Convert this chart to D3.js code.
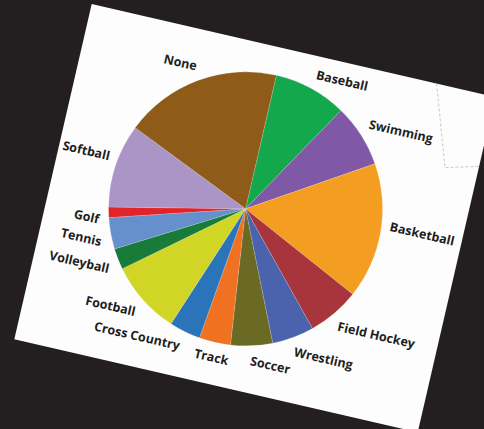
<!DOCTYPE html>
<html>
<head>
<meta charset="utf-8">
<script src="https://cdn.jsdelivr.net/npm/d3@7"></script>
<style>
  body { margin: 0; background: #231f20; }
  svg { display: block; }
</style>
</head>
<body>
<div id="chart"></div>
<script>
// sports survey, counts (start at 12 o'clock, clockwise)
var sports = ["Baseball", "Swimming", "Basketball", "Field Hockey", "Wrestling", "Soccer",
  "Track", "Cross Country", "Football", "Volleyball", "Tennis", "Golf", "Softball", "None"];
var counts = [7, 6, 13, 5, 4, 4, 3, 3, 7, 2, 3, 1, 8, 15];
var colors = ["#13a84b", "#8059a6", "#f49e21", "#a8353b", "#4b63ad", "#6b6a24",
  "#ef7121", "#2c74b9", "#d1d526", "#187b39", "#6590cb", "#e1242a", "#ab94c6", "#8f5b19"];

var areaWidth = 484, areaHeight = 429;
var tilt = 13; // the photographed sheet is turned a bit
var radius = 137;

var svg = d3.select("#chart").append("svg")
  .attr("width", areaWidth).attr("height", areaHeight);

svg.append("rect")
  .attr("width", areaWidth).attr("height", areaHeight)
  .style("fill", "#231f20");

var sheet = svg.append("g")
  .attr("transform", "translate(91.7,4) rotate(" + tilt + ")");

sheet.append("rect")
  .attr("width", 414).attr("height", 344)
  .style("fill", "#fdfdfd");

// faint fold mark in the top right corner
sheet.append("path")
  .attr("d", "M354,0 L381,80 L414,71")
  .style("fill", "none")
  .style("stroke", "#b8b8b8")
  .style("stroke-width", 0.7)
  .style("stroke-dasharray", "3,2");

var pieG = sheet.append("g").attr("transform", "translate(196,165)");

var pie = d3.pie().sort(null).value(function (d) { return d; });
var arcs = pie(counts);
var arc = d3.arc().innerRadius(0).outerRadius(radius);

pieG.selectAll("path.slice")
  .data(arcs)
  .enter()
  .append("path")
  .attr("class", "slice")
  .attr("d", arc)
  .style("fill", function (d, i) { return colors[i]; })
  .style("stroke", "#ffffff")
  .style("stroke-opacity", 0.35)
  .style("stroke-width", 0.4);

// outside-end labels: the label corner nearest the pie sits on the mid-angle ray
var labels = pieG.selectAll("text")
  .data(arcs)
  .enter()
  .append("text")
  .text(function (d, i) { return sports[i]; })
  .attr("text-anchor", "middle")
  .attr("dominant-baseline", "central")
  .style("font-family", "'Comic Sans MS', 'Open Sans', sans-serif")
  .style("font-weight", "700")
  .style("font-size", "12.5px")
  .style("fill", "#1e1e1e");

labels.each(function (d) {
  var a = (d.startAngle + d.endAngle) / 2;
  var s = Math.sin(a), c = -Math.cos(a);
  var w = this.getComputedTextLength();
  var p = radius + 8;
  var sx = Math.abs(s) < 0.05 ? 0 : Math.sign(s);
  var sy = Math.abs(c) < 0.02 ? 0 : Math.sign(c);
  d3.select(this)
    .attr("x", p * s + sx * w / 2)
    .attr("y", p * c + sy * 7);
});
</script>
</body>
</html>
